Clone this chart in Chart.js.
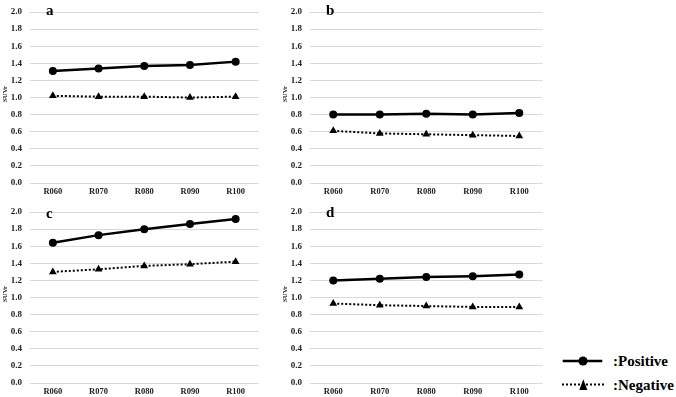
<!DOCTYPE html>
<html><head><meta charset="utf-8">
<script src="https://cdn.jsdelivr.net/npm/chart.js@4.4.0/dist/chart.umd.min.js"></script>
<style>
html,body{margin:0;padding:0;background:#fff;overflow:hidden;}
body{width:676px;height:397px;position:relative;font-family:"Liberation Serif","Times New Roman",serif;}
canvas{position:absolute;}
.lbl{position:absolute;font-weight:bold;font-size:15px;line-height:15px;color:#000;white-space:nowrap;}
.ytitle{position:absolute;font-weight:bold;font-size:6.8px;line-height:8px;height:8px;width:24px;color:#111;transform:rotate(-90deg);transform-origin:center center;white-space:nowrap;text-align:center;}
</style></head><body>
<canvas id="ca" width="263" height="200" style="left:0;top:0"></canvas>
<canvas id="cb" width="267" height="200" style="left:280px;top:0"></canvas>
<canvas id="cc" width="263" height="200" style="left:0;top:200px"></canvas>
<canvas id="cd" width="267" height="200" style="left:280px;top:200px"></canvas>

<div class="lbl" style="left:46px;top:3px">a</div>
<div class="lbl" style="left:326px;top:3px">b</div>
<div class="lbl" style="left:46px;top:206px">c</div>
<div class="lbl" style="left:326px;top:205px">d</div>

<div class="ytitle" style="left:-7px;top:90px">SUVr</div>
<div class="ytitle" style="left:273px;top:90px">SUVr</div>
<div class="ytitle" style="left:-7px;top:290px">SUVr</div>
<div class="ytitle" style="left:273px;top:290px">SUVr</div>

<svg style="position:absolute;left:555px;top:350px" width="55" height="45">
  <line x1="7.7" y1="11" x2="47.3" y2="11" stroke="#000" stroke-width="2.5"/>
  <circle cx="28" cy="11" r="4.6" fill="#000"/>
  <line x1="7" y1="34.5" x2="49" y2="34.5" stroke="#000" stroke-width="2" stroke-dasharray="2,2"/>
  <polygon points="24.3,40 32.3,40 28.3,29.3" fill="#000"/>
</svg>
<div class="lbl" id="legPos" style="left:613px;top:353.5px">:Positive</div>
<div class="lbl" id="legNeg" style="left:613px;top:377.5px">:Negative</div>

<script>
const categories = ['R060', 'R070', 'R080', 'R090', 'R100'];
const seriesNames = ['Positive', 'Negative'];

const aPositive = [1.31, 1.34, 1.37, 1.38, 1.42];
const aNegative = [1.02, 1.01, 1.01, 1.00, 1.01];

const bPositive = [0.80, 0.80, 0.81, 0.80, 0.82];
const bNegative = [0.61, 0.58, 0.57, 0.56, 0.55];

const cPositive = [1.64, 1.73, 1.80, 1.86, 1.92];
const cNegative = [1.30, 1.33, 1.37, 1.39, 1.42];

const dPositive = [1.20, 1.22, 1.24, 1.25, 1.27];
const dNegative = [0.93, 0.91, 0.90, 0.89, 0.89];

const FONT = '"Liberation Serif", "Times New Roman", serif';
const xTickFont = {family: FONT, size: 8.5, weight: 'bold', lineHeight: 1};
const yTickFont = {family: FONT, size: 9, weight: 'bold', lineHeight: 0.9};

function makeChart(id, pos, neg) {
  return new Chart(document.getElementById(id), {
    type: 'line',
    data: {
      labels: categories,
      datasets: [
        {label: seriesNames[0], data: pos, borderColor: '#000', backgroundColor: '#000',
         borderWidth: 2.5, pointStyle: 'circle', pointRadius: 4, pointBorderWidth: 0, tension: 0},
        {label: seriesNames[1], data: neg, borderColor: '#000', backgroundColor: '#000',
         borderWidth: 2, borderDash: [2, 2], pointStyle: 'triangle', pointRadius: 4.5, pointBorderWidth: 0, tension: 0}
      ]
    },
    options: {
      responsive: false, animation: false, devicePixelRatio: 1,
      layout: {padding: 0},
      plugins: {legend: {display: false}, tooltip: {enabled: false}},
      scales: {
        x: {
          type: 'category', offset: true,
          grid: {display: false, drawTicks: false}, border: {display: false},
          ticks: {color: '#222', font: xTickFont, padding: 5, maxRotation: 0, autoSkip: false},
          afterFit(s) { s.height = 17; }
        },
        y: {
          min: 0, max: 2,
          grid: {color: '#d9d9d9', lineWidth: 1, drawTicks: false}, border: {display: false},
          ticks: {stepSize: 0.2, color: '#222', font: yTickFont, padding: 8,
                  callback: v => Number(v).toFixed(1)},
          afterFit(s) { s.width = 30; }
        }
      }
    }
  });
}

makeChart('ca', aPositive, aNegative);
makeChart('cb', bPositive, bNegative);
makeChart('cc', cPositive, cNegative);
makeChart('cd', dPositive, dNegative);
</script>
</body></html>
